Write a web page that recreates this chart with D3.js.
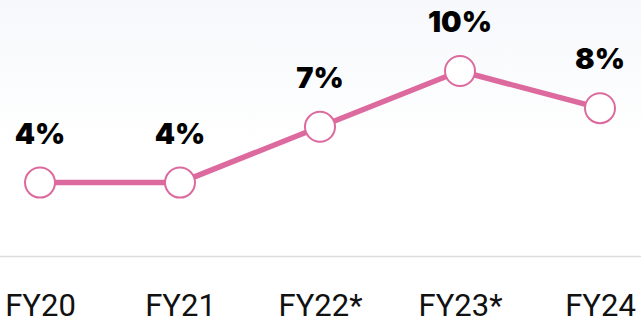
<!DOCTYPE html>
<html>
<head>
<meta charset="utf-8">
<script src="https://cdn.jsdelivr.net/npm/d3@7"></script>
<style>
  html, body { margin: 0; padding: 0; background: #fff; }
  svg { display: block; }
</style>
</head>
<body>
<svg id="chart" width="641" height="323"></svg>
<script>
// Growth by fiscal year
const categories = ["FY20", "FY21", "FY22*", "FY23*", "FY24"];
const values = [4, 4, 7, 10, 8];
const valueLabels = ["4%", "4%", "7%", "10%", "8%"];

const W = 641, H = 323;
const svg = d3.select("#chart");

// soft backdrop fading to white
const defs = svg.append("defs");
const grad = defs.append("linearGradient")
  .attr("id", "bg").attr("x1", 0).attr("y1", 0).attr("x2", 0).attr("y2", 1);
grad.append("stop").attr("offset", "0%").attr("stop-color", "#f6f8fb");
grad.append("stop").attr("offset", "45%").attr("stop-color", "#ffffff");
svg.append("rect").attr("width", W).attr("height", H).attr("fill", "url(#bg)");

const x = d3.scalePoint().domain(categories).range([40, 600]);
const y = d3.scaleLinear().domain([0, 10]).range([257, 71]);

const data = categories.map((c, i) => ({ c, v: values[i], label: valueLabels[i] }));

// baseline
svg.append("line")
  .attr("x1", 0).attr("x2", W)
  .attr("y1", y(0) - 0.5).attr("y2", y(0) - 0.5)
  .attr("stroke", "#dddddd").attr("stroke-width", 1.5);

// category axis
const xAxis = svg.append("g")
  .attr("transform", `translate(0,${y(0)})`)
  .call(d3.axisBottom(x).tickSize(0).tickPadding(0));
xAxis.select(".domain").remove();
xAxis.selectAll("text")
  .attr("y", 59).attr("dy", 0)
  .attr("fill", "#111")
  .style("font-family", "Roboto, sans-serif")
  .style("font-size", "31px")
  .style("font-weight", 400);

// line
const line = d3.line().x(d => x(d.c)).y(d => y(d.v));
svg.append("path")
  .datum(data)
  .attr("d", line)
  .attr("fill", "none")
  .attr("stroke", "#dd6a9e")
  .attr("stroke-width", 5.5)
  .attr("stroke-linejoin", "round");

// markers
svg.selectAll("circle.pt")
  .data(data).join("circle")
  .attr("class", "pt")
  .attr("cx", d => x(d.c)).attr("cy", d => y(d.v))
  .attr("r", 15)
  .attr("fill", "#fff")
  .attr("stroke", "#dd6a9e")
  .attr("stroke-width", 2);

// value labels
svg.selectAll("text.val")
  .data(data).join("text")
  .attr("class", "val")
  .attr("x", d => x(d.c)).attr("y", d => y(d.v) - 39)
  .attr("text-anchor", "middle")
  .attr("fill", "#000")
  .style("font-family", "Inter, sans-serif")
  .style("font-size", "29px")
  .style("font-weight", 900)
  .text(d => d.label);
</script>
</body>
</html>
